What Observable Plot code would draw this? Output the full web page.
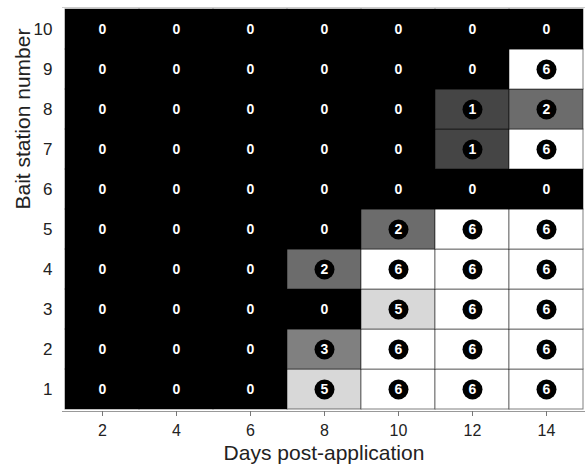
<!DOCTYPE html>
<html>
<head>
<meta charset="utf-8">
<script src="https://cdn.jsdelivr.net/npm/d3@7"></script>
<script src="https://cdn.jsdelivr.net/npm/@observablehq/plot@0.6"></script>
<style>
  html, body { margin: 0; padding: 0; background: #fff; overflow: hidden; }
</style>
</head>
<body>
<div id="chart"></div>
<script>
const days = [2, 4, 6, 8, 10, 12, 14];
const stations = [1, 2, 3, 4, 5, 6, 7, 8, 9, 10];
// counts per station (rows), one value per day (columns)
const station1 = [0, 0, 0, 5, 6, 6, 6];
const station2 = [0, 0, 0, 3, 6, 6, 6];
const station3 = [0, 0, 0, 0, 5, 6, 6];
const station4 = [0, 0, 0, 2, 6, 6, 6];
const station5 = [0, 0, 0, 0, 2, 6, 6];
const station6 = [0, 0, 0, 0, 0, 0, 0];
const station7 = [0, 0, 0, 0, 0, 1, 6];
const station8 = [0, 0, 0, 0, 0, 1, 2];
const station9 = [0, 0, 0, 0, 0, 0, 6];
const station10 = [0, 0, 0, 0, 0, 0, 0];
const rows = [station1, station2, station3, station4, station5, station6, station7, station8, station9, station10];

const data = [];
stations.forEach((s, i) => days.forEach((d, j) => data.push({station: s, day: d, count: rows[i][j]})));

const chart = Plot.plot({
  width: 585,
  height: 474,
  marginLeft: 62,
  marginRight: 0,
  marginTop: 7,
  marginBottom: 63,
  style: {fontFamily: "'Liberation Sans', Arial, sans-serif", background: "#fff", color: "#222"},
  x: {type: "band", domain: days, padding: 0},
  y: {type: "band", domain: stations.slice().reverse(), padding: 0},
  color: {type: "ordinal", domain: [0, 1, 2, 3, 5, 6], range: ["#000000", "#454545", "#6c6c6c", "#808080", "#d8d8d8", "#ffffff"]},
  marks: [
    Plot.cell(data, {x: "day", y: "station", fill: "count", stroke: "#000", strokeOpacity: 0.5, strokeWidth: 1}),
    Plot.frame({anchor: "bottom", stroke: "#999"}),
    Plot.frame({anchor: "top", stroke: "#ccc"}),
    Plot.dot(data.filter(d => d.count > 0), {x: "day", y: "station", r: 10, fill: "#000", stroke: "none"}),
    Plot.text(data, {x: "day", y: "station", text: d => String(d.count), fill: "#fff", fontWeight: "bold", fontSize: 14}),
    Plot.axisX({tickSize: 5, stroke: "#777", tickPadding: 8, fontSize: 16, label: null}),
    Plot.axisY({tickSize: 0, tickPadding: 10, fontSize: 17, label: null}),
    Plot.text(["Days post-application"], {frameAnchor: "bottom", dy: 48, fontSize: 21, fill: "#222"}),
    Plot.text(["Bait station number"], {frameAnchor: "left", rotate: -90, dx: -39, fontSize: 21, fill: "#222"})
  ]
});
document.getElementById("chart").appendChild(chart);
</script>
</body>
</html>
